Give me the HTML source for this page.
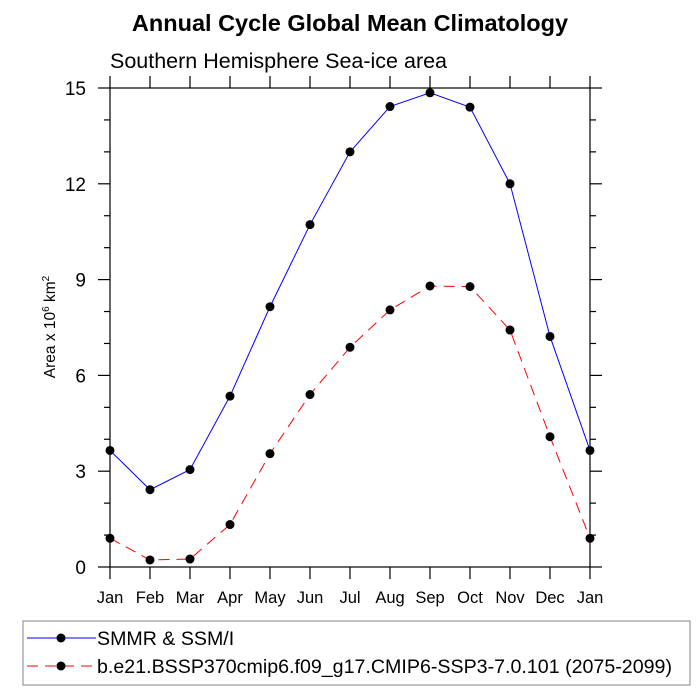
<!DOCTYPE html>
<html><head><meta charset="utf-8"><style>
body{margin:0;background:#fff}
svg{display:block;font-family:"Liberation Sans",sans-serif}
</style></head><body>
<svg width="700" height="700" viewBox="0 0 700 700">
<text x="350" y="31" text-anchor="middle" font-size="23.5" font-weight="bold">Annual Cycle Global Mean Climatology</text>
<text x="110" y="68" font-size="21.5">Southern Hemisphere Sea-ice area</text>
<g id="axes"></g>
<g id="series"></g>
<text transform="translate(55,327) rotate(-90)" text-anchor="middle" font-size="15.5">Area x 10<tspan font-size="10" dy="-6">6</tspan><tspan dy="6"> km</tspan><tspan font-size="10" dy="-6">2</tspan></text>
<g>
<rect x="23" y="621" width="667" height="64" fill="#fff" stroke="#999" stroke-width="1.2"/>
<g>
<line x1="27" y1="638" x2="96" y2="638" stroke="#00f" stroke-width="1"/>
<circle cx="61" cy="638" r="4.5" fill="#000"/>
<text x="97" y="645" font-size="19.6">SMMR &amp; SSM/I</text></g>
<g>
<line x1="27" y1="666" x2="96" y2="666" stroke="#f00" stroke-width="1" stroke-dasharray="11,7"/>
<circle cx="61" cy="666" r="4.5" fill="#000"/>
<text x="97" y="673" font-size="19.6" textLength="575" lengthAdjust="spacingAndGlyphs">b.e21.BSSP370cmip6.f09_g17.CMIP6-SSP3-7.0.101 (2075-2099)</text></g>
</g>
</svg>
<script>
const months=["Jan","Feb","Mar","Apr","May","Jun","Jul","Aug","Sep","Oct","Nov","Dec","Jan"];
const obsValues=[3.65,2.42,3.05,5.35,8.15,10.72,13.0,14.42,14.85,14.4,12.0,7.22,3.65];
const modelValues=[0.9,0.22,0.25,1.33,3.55,5.4,6.88,8.05,8.8,8.78,7.42,4.08,0.9];
const yTicks=[0,3,6,9,12,15];
const NS="http://www.w3.org/2000/svg";
const L=110,R=590,T=88,B=567,yMax=15;
const xs=i=>L+(R-L)*i/(months.length-1);
const ys=v=>B-(B-T)*v/yMax;
function mk(tag,attrs,parent){const e=document.createElementNS(NS,tag);for(const k in attrs)e.setAttribute(k,attrs[k]);parent.appendChild(e);return e;}
const ax=document.getElementById('axes');
const frame=mk('rect',{x:L,y:T,width:R-L,height:B-T,fill:'none',stroke:'#000','stroke-width':1.2},ax);


for(let v=0;v<=yMax;v++){
  const maj=v%3===0,len=maj?12:6,y=ys(v);
  mk('line',{x1:L-len,y1:y,x2:L,y2:y,stroke:'#000','stroke-width':1.2},ax);
  mk('line',{x1:R,y1:y,x2:R+len,y2:y,stroke:'#000','stroke-width':1.2},ax);
}
yTicks.forEach(v=>{
  const t=mk('text',{x:L-24,y:ys(v)+7,'text-anchor':'end','font-size':19},ax);
  t.textContent=v;
  
  
});
months.forEach((m,i)=>{
  const x=xs(i);
  mk('line',{x1:x,y1:B,x2:x,y2:B+12,stroke:'#000','stroke-width':1.2},ax);
  mk('line',{x1:x,y1:T-12,x2:x,y2:T,stroke:'#000','stroke-width':1.2},ax);
  const t=mk('text',{x:x,y:B+36,'text-anchor':'middle','font-size':16.5},ax);
  t.textContent=m;
  
  
});
const sg=document.getElementById('series');
function draw(vals,color,dash,name){
  const g=mk('g',{},sg);
  
  
  const p=mk('polyline',{points:vals.map((v,i)=>xs(i)+','+ys(v)).join(' '),fill:'none',stroke:color,'stroke-width':1,'stroke-dasharray':dash},g);
  
  
  vals.forEach((v,i)=>{
    const c=mk('circle',{cx:xs(i),cy:ys(v),r:4.5,fill:'#000'},g);
    
    
  });
}
draw(modelValues,'#f00','11,7','model-series');
draw(obsValues,'#00f','none','obs-series');
</script>
</body></html>
